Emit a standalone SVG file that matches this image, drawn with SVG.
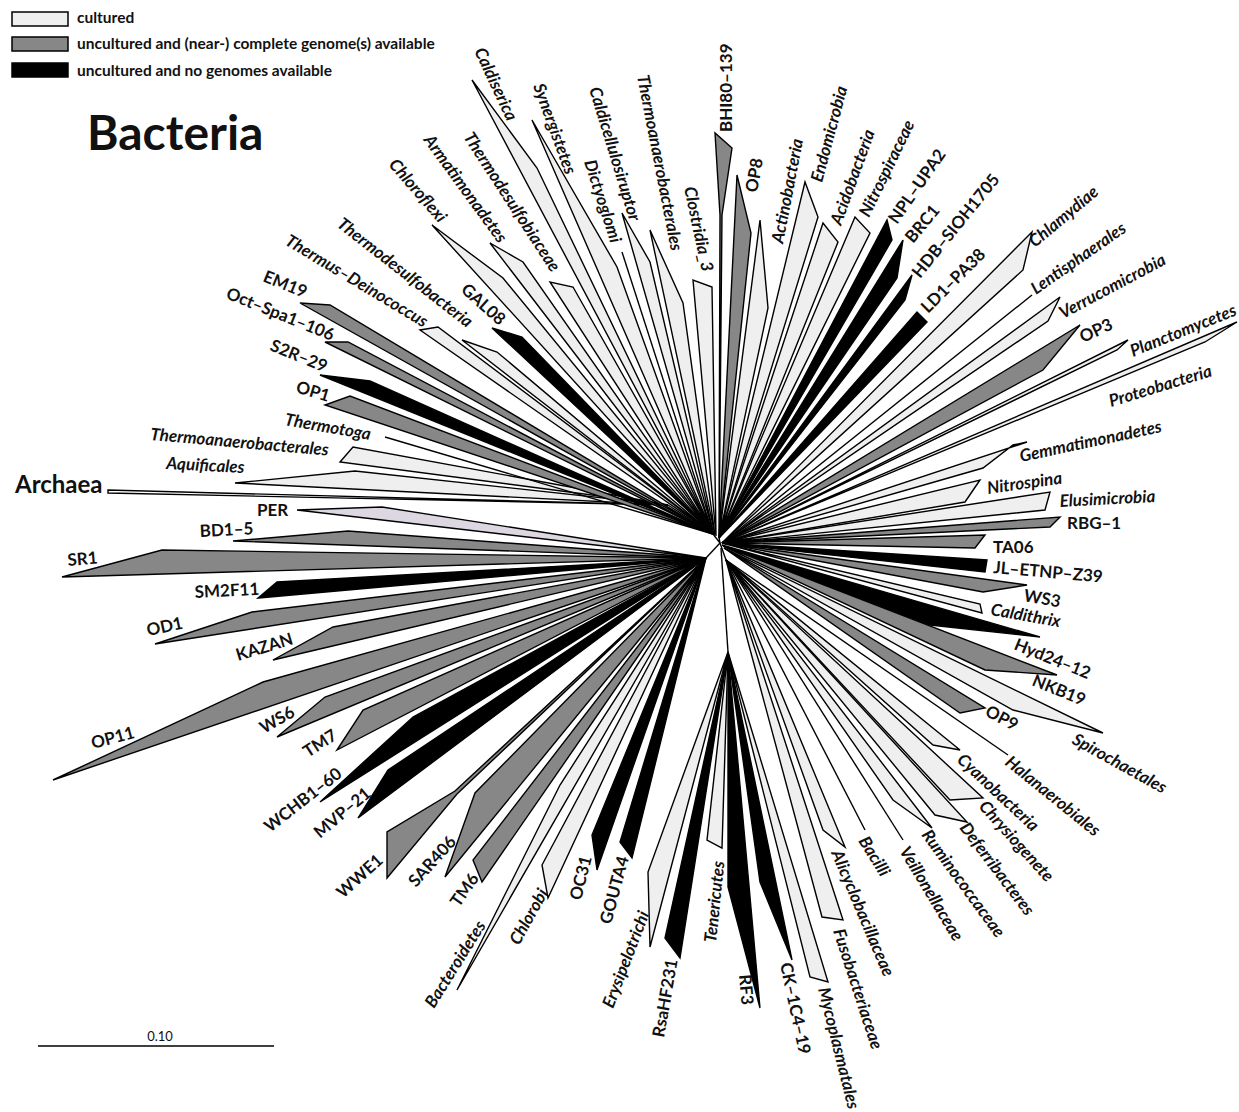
<svg xmlns="http://www.w3.org/2000/svg" width="1239" height="1112" viewBox="0 0 1239 1112">
<style>
polygon,line{stroke:#000;stroke-width:1.4;stroke-linejoin:miter}
.c{fill:#efefef}.g{fill:#878787}.k{fill:#000}.p{fill:#dcd7e1}.w{fill:#fff}
text{font-family:Lato,'Liberation Sans',sans-serif;font-weight:700;font-size:17px;fill:#111}
.i{font-style:italic}
.lg{font-size:15.5px}
</style>
<rect width="1239" height="1112" fill="#fff"/>
<g id="legend">
<rect x="12" y="12" width="56" height="14" fill="#efefef" stroke="#000" stroke-width="1.5"/>
<rect x="12" y="37" width="56" height="14" fill="#878787" stroke="#000" stroke-width="1.5"/>
<rect x="12" y="63" width="56" height="14" fill="#000" stroke="#000" stroke-width="1.5"/>
<text class="lg" x="77" y="23">cultured</text>
<text class="lg" x="77" y="49">uncultured and (near-) complete genome(s) available</text>
<text class="lg" x="77" y="76">uncultured and no genomes available</text>
</g>
<g id="title"><text x="87" y="150" style="font-size:48px">Bacteria</text></g>
<g id="connectors">
<line x1="668" y1="505" x2="713" y2="534"/>
<line x1="713" y1="534" x2="720" y2="543"/>
<line x1="719" y1="538" x2="720" y2="543"/>
<line x1="720" y1="543" x2="726" y2="560"/>
<line x1="720" y1="543" x2="706" y2="558"/>
<line x1="721" y1="548" x2="728" y2="652"/>
</g>
<g id="archaea"><polygon class="w" points="668,505 108,490 108,493"/><text x="15" y="493" style="font-size:24px">Archaea</text></g>
<g id="aquificales"><polygon class="c" points="668,505 355,471 235,483"/><text class="i" transform="translate(166,469) rotate(3)">Aquificales</text></g>
<g id="thermoanaerobacterales-l"><polygon class="c" points="668,505 353,447 340,462"/><text class="i" transform="translate(150,440) rotate(5)">Thermoanaerobacterales</text></g>
<g id="thermotoga"><line x1="713" y1="534" x2="385" y2="437"/><text class="i" transform="translate(284,425) rotate(10)">Thermotoga</text></g>
<g id="op1"><polygon class="g" points="713,534 350,396 325,405"/><text transform="translate(295,392) rotate(17)">OP1</text></g>
<g id="s2r29"><polygon class="k" points="713,534 370,381 320,375"/><text transform="translate(269,350) rotate(22)">S2R–29</text></g>
<g id="octspa"><polygon class="g" points="713,534 348,342 325,342"/><text transform="translate(225,298) rotate(22)">Oct–Spa1–106</text></g>
<g id="em19"><polygon class="g" points="713,534 330,305 300,303"/><text transform="translate(262,281) rotate(22)">EM19</text></g>
<g id="thermus"><polygon class="c" points="713,534 438,327 420,330"/><text class="i" transform="translate(284,244) rotate(31)">Thermus–Deinococcus</text></g>
<g id="thermodesulfobacteria"><polygon class="c" points="713,534 497,352 462,340"/><text class="i" transform="translate(336,226) rotate(38)">Thermodesulfobacteria</text></g>
<g id="gal08"><polygon class="k" points="713,534 522,337 492,328"/><text transform="translate(460,291) rotate(42)">GAL08</text></g>
<g id="chloroflexi"><polygon class="c" points="713,534 503,278 432,225"/><text class="i" transform="translate(388,165) rotate(49)">Chloroflexi</text></g>
<g id="armatimonadetes"><polygon class="c" points="713,534 523,262 490,243"/><text class="i" transform="translate(423,140) rotate(54)">Armatimonadetes</text></g>
<g id="thermodesulfobiaceae"><polygon class="c" points="713,534 573,287 550,282"/><text class="i" transform="translate(463,137) rotate(57)">Thermodesulfobiaceae</text></g>
<g id="caldiserica"><polygon class="c" points="713,534 537,168 472,80"/><text class="i" transform="translate(474,51) rotate(65)">Caldiserica</text></g>
<g id="synergistetes"><polygon class="c" points="713,534 617,267 532,120"/><text class="i" transform="translate(533,86) rotate(70)">Synergistetes</text></g>
<g id="dictyoglomi"><line x1="713" y1="534" x2="622" y2="252"/><text class="i" transform="translate(584,162) rotate(72)">Dictyoglomi</text></g>
<g id="caldicellulosiruptor"><polygon class="c" points="714,535 650,262 622,213"/><text class="i" transform="translate(589,89) rotate(73)">Caldicellulosiruptor</text></g>
<g id="thermoanaerobacterales-t"><polygon class="c" points="715,535 683,303 650,230"/><text class="i" transform="translate(637,76) rotate(79)">Thermoanaerobacterales</text></g>
<g id="clostridia3"><polygon class="c" points="716,536 712,287 693,280"/><text class="i" transform="translate(684,188) rotate(78)">Clostridia_3</text></g>
<g id="bhi80"><polygon class="g" points="719,538 722,215 732,148 715,133 720,215"/><text transform="translate(732,132) rotate(-90)">BHI80–139</text></g>
<g id="op8"><polygon class="g" points="719,538 751,233 737,175"/><text transform="translate(757,193) rotate(-80)">OP8</text></g>
<g id="actinobacteria"><polygon class="c" points="719,538 768,308 760,220"/><text class="i" transform="translate(783,244) rotate(-79)">Actinobacteria</text></g>
<g id="endomicrobia"><polygon class="c" points="719,538 818,217 805,182"/><text class="i" transform="translate(822,183) rotate(-75)">Endomicrobia</text></g>
<g id="acidobacteria"><polygon class="c" points="719,538 838,242 823,223"/><text class="i" transform="translate(841,226) rotate(-70)">Acidobacteria</text></g>
<g id="nitrospiraceae"><polygon class="c" points="719,538 870,233 855,217"/><text class="i" transform="translate(869,218) rotate(-64)">Nitrospiraceae</text></g>
<g id="nplupa2"><polygon class="k" points="719,538 892,240 887,220"/><text transform="translate(897,225) rotate(-55)">NPL–UPA2</text></g>
<g id="brc1"><polygon class="k" points="719,538 897,278 903,240"/><text transform="translate(913,244) rotate(-50)">BRC1</text></g>
<g id="hdb"><polygon class="k" points="719,538 905,300 912,275"/><text transform="translate(920,279) rotate(-51)">HDB–SIOH1705</text></g>
<g id="ld1"><polygon class="k" points="719,538 927,322 917,312"/><text transform="translate(928,314) rotate(-45)">LD1–PA38</text></g>
<g id="chlamydiae"><polygon class="c" points="722,543 1023,270 1032,232"/><text class="i" transform="translate(1035,248) rotate(-40)">Chlamydiae</text></g>
<g id="lentisphaerales"><line x1="722" y1="543" x2="1032" y2="295"/><text class="i" transform="translate(1036,295) rotate(-35)">Lentisphaerales</text></g>
<g id="verrucomicrobia"><polygon class="c" points="722,543 1048,321 1060,297"/><text class="i" transform="translate(1063,319) rotate(-28)">Verrucomicrobia</text></g>
<g id="op3"><polygon class="g" points="722,543 1043,370 1080,325"/><text transform="translate(1083,343) rotate(-25)">OP3</text></g>
<g id="planctomycetes"><polygon class="c" points="722,543 1117,350 1128,340"/><text class="i" transform="translate(1133,357) rotate(-22)">Planctomycetes</text></g>
<g id="proteobacteria"><polygon class="c" points="722,543 1205,342 1237,322"/><text class="i" transform="translate(1111,407) rotate(-17)">Proteobacteria</text></g>
<g id="gemmatimonadetes"><polygon class="c" points="722,543 983,468 1013,445 1027,442"/><text class="i" transform="translate(1021,462) rotate(-12)">Gemmatimonadetes</text></g>
<g id="nitrospina"><polygon class="c" points="722,543 965,502 980,480"/><text class="i" transform="translate(988,494) rotate(-8)">Nitrospina</text></g>
<g id="elusimicrobia"><polygon class="c" points="722,543 1045,510 1050,492"/><text class="i" transform="translate(1060,507) rotate(-3)">Elusimicrobia</text></g>
<g id="rbg1"><polygon class="g" points="722,543 1050,527 1060,517"/><text x="1067" y="529">RBG–1</text></g>
<g id="ta06"><polygon class="g" points="722,543 975,548 985,535"/><text x="993" y="553">TA06</text></g>
<g id="jletnp"><polygon class="k" points="722,543 987,560 985,572"/><text transform="translate(993,573) rotate(5)">JL–ETNP–Z39</text></g>
<g id="ws3"><polygon class="g" points="722,543 1027,585 983,592"/><text transform="translate(1023,601) rotate(10)">WS3</text></g>
<g id="caldithrix"><polygon class="c" points="722,543 980,604 982,613"/><text class="i" transform="translate(990,615) rotate(10)">Caldithrix</text></g>
<g id="hyd2412"><polygon class="k" points="722,545 1040,637 930,625"/><text transform="translate(1013,649) rotate(22)">Hyd24–12</text></g>
<g id="nkb19"><polygon class="g" points="723,546 1057,675 985,670"/><text transform="translate(1031,685) rotate(22)">NKB19</text></g>
<g id="spirochaetales"><polygon class="c" points="724,548 1103,733 1013,710"/><text class="i" transform="translate(1071,743) rotate(29)">Spirochaetales</text></g>
<g id="op9"><polygon class="g" points="724,548 985,708 960,713"/><text transform="translate(984,715) rotate(28)">OP9</text></g>
<g id="halanaerobiales"><line x1="726" y1="560" x2="1008" y2="755"/><text class="i" transform="translate(1004,764) rotate(39)">Halanaerobiales</text></g>
<g id="cyanobacteria"><polygon class="c" points="726,560 960,750 933,745"/><text class="i" transform="translate(956,761) rotate(43)">Cyanobacteria</text></g>
<g id="chrysiogenete"><polygon class="c" points="726,560 983,798 950,800"/><text class="i" transform="translate(978,807) rotate(48)">Chrysiogenete</text></g>
<g id="deferribacteres"><polygon class="c" points="726,560 967,822 935,815"/><text class="i" transform="translate(959,828) rotate(53)">Deferribacteres</text></g>
<g id="ruminococcaceae"><polygon class="c" points="726,560 932,828 893,800"/><text class="i" transform="translate(921,835) rotate(54)">Ruminococcaceae</text></g>
<g id="veillonellaceae"><line x1="726" y1="560" x2="903" y2="840"/><text class="i" transform="translate(899,851) rotate(59)">Veillonellaceae</text></g>
<g id="bacilli"><line x1="726" y1="560" x2="865" y2="830"/><text class="i" transform="translate(858,841) rotate(58)">Bacilli</text></g>
<g id="alicyclobacillaceae"><polygon class="c" points="726,560 845,847 823,830"/><text class="i" transform="translate(831,853) rotate(67)">Alicyclobacillaceae</text></g>
<g id="fusobacteriaceae"><polygon class="c" points="726,560 843,920 822,917"/><text class="i" transform="translate(833,931) rotate(72)">Fusobacteriaceae</text></g>
<g id="mycoplasmatales"><polygon class="c" points="728,652 828,982 810,977"/><text class="i" transform="translate(818,989) rotate(76)">Mycoplasmatales</text></g>
<g id="ck1c419"><polygon class="k" points="728,652 792,960 760,882"/><text transform="translate(780,964) rotate(78)">CK–1C4–19</text></g>
<g id="rf3"><polygon class="k" points="728,652 760,1008 728,887"/><text transform="translate(739,975) rotate(85)">RF3</text></g>
<g id="tenericutes"><polygon class="c" points="728,652 722,848 707,840"/><text class="i" transform="translate(716,943) rotate(-84)">Tenericutes</text></g>
<g id="rsahf231"><polygon class="k" points="728,652 680,958 665,938"/><text transform="translate(664,1038) rotate(-80)">RsaHF231</text></g>
<g id="erysipelotrichi"><polygon class="c" points="728,652 648,872 650,947"/><text class="i" transform="translate(613,1009) rotate(-69)">Erysipelotrichi</text></g>
<g id="gouta4"><polygon class="k" points="706,558 620,842 632,858"/><text transform="translate(611,925) rotate(-75)">GOUTA4</text></g>
<g id="oc31"><polygon class="k" points="706,558 592,835 597,870"/><text transform="translate(581,901) rotate(-76)">OC31</text></g>
<g id="chlorobi"><polygon class="c" points="706,558 542,865 548,898"/><text class="i" transform="translate(519,946) rotate(-61)">Chlorobi</text></g>
<g id="bacteroidetes"><polygon class="c" points="706,558 560,785 457,990"/><text class="i" transform="translate(434,1009) rotate(-58)">Bacteroidetes</text></g>
<g id="tm6"><polygon class="g" points="706,558 473,860 482,882"/><text transform="translate(459,908) rotate(-55)">TM6</text></g>
<g id="sar406"><polygon class="g" points="706,558 475,793 445,877"/><text transform="translate(416,888) rotate(-48)">SAR406</text></g>
<g id="wwe1"><polygon class="g" points="706,558 455,791 387,832 387,878 457,794"/><text transform="translate(343,899) rotate(-42)">WWE1</text></g>
<g id="mvp21"><polygon class="k" points="706,558 388,770 358,818"/><text transform="translate(320,839) rotate(-40)">MVP–21</text></g>
<g id="wchb160"><polygon class="k" points="706,558 413,717 320,802"/><text transform="translate(270,833) rotate(-38)">WCHB1–60</text></g>
<g id="tm7"><polygon class="g" points="706,558 363,710 337,750"/><text transform="translate(308,758) rotate(-33)">TM7</text></g>
<g id="ws6"><polygon class="g" points="706,558 325,697 277,737"/><text transform="translate(264,734) rotate(-30)">WS6</text></g>
<g id="op11"><polygon class="g" points="706,558 263,682 53,780"/><text transform="translate(93,749) rotate(-15)">OP11</text></g>
<g id="kazan"><polygon class="g" points="706,558 333,627 273,660"/><text transform="translate(238,661) rotate(-17)">KAZAN</text></g>
<g id="od1"><polygon class="g" points="706,558 252,612 155,644"/><text transform="translate(148,636) rotate(-12)">OD1</text></g>
<g id="sm2f11"><polygon class="k" points="706,558 277,582 258,598"/><text transform="translate(195,598) rotate(-3)">SM2F11</text></g>
<g id="sr1"><polygon class="g" points="706,558 162,550 62,577"/><text transform="translate(68,566) rotate(-5)">SR1</text></g>
<g id="bd15"><polygon class="g" points="706,558 348,531 233,541"/><text transform="translate(200,537) rotate(-3)">BD1–5</text></g>
<g id="per"><polygon class="p" points="706,558 382,507 297,510"/><text x="257" y="516">PER</text></g>
<g id="scale"><line x1="38" y1="1046" x2="274" y2="1046"/><text x="160" y="1041" text-anchor="middle" style="font-size:13px;font-weight:400">0.10</text></g>
</svg>
